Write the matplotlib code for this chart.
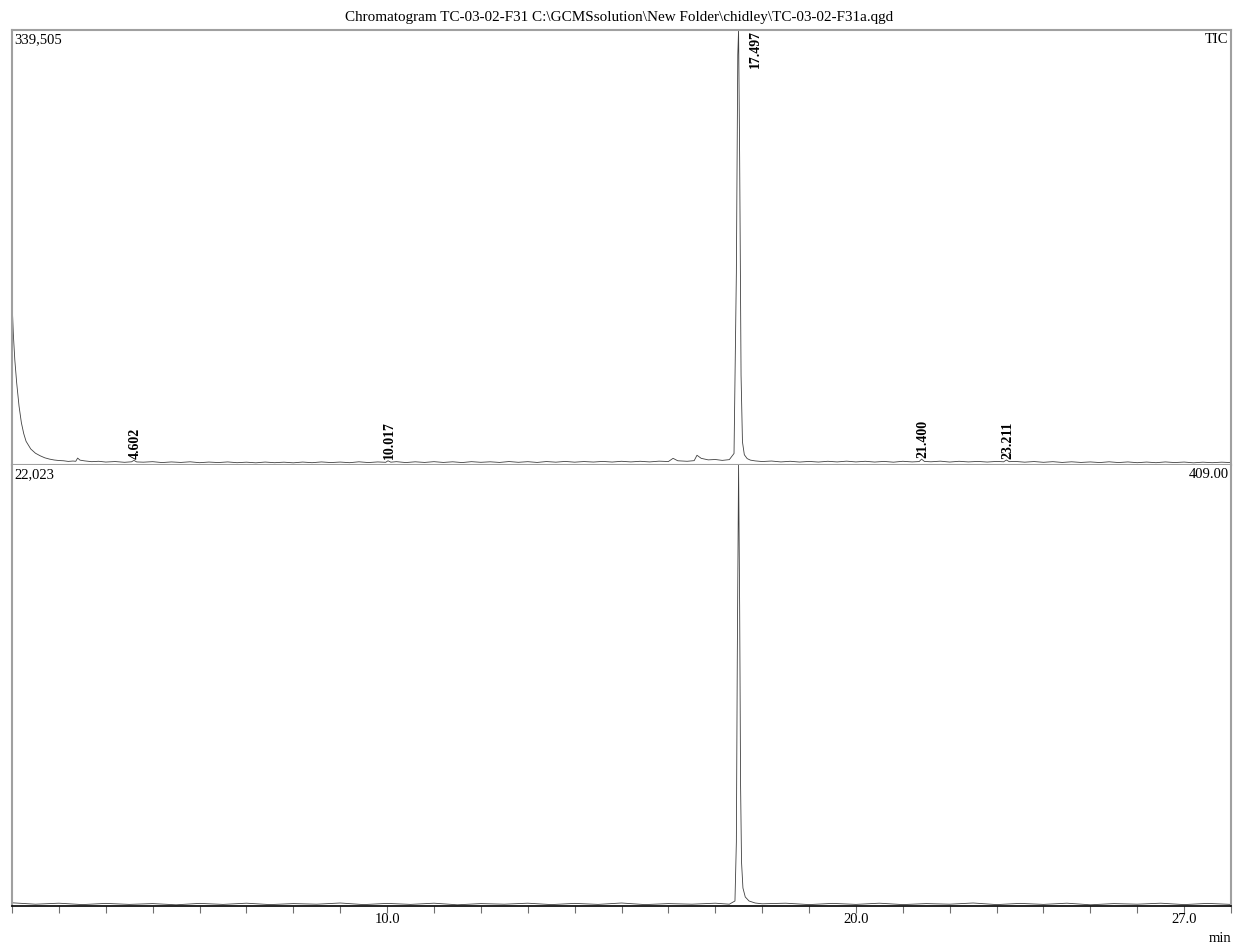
import numpy as np
import matplotlib
matplotlib.use("Agg")
import matplotlib.pyplot as plt

plt.rcParams['font.family'] = ['Liberation Serif', 'DejaVu Serif']

# TIC trace, upper panel (time in min, counts)
t_tic = [2.00, 2.03, 2.06, 2.10, 2.15, 2.20, 2.25, 2.30, 2.40, 2.50, 2.60, 2.70, 2.80, 2.90,
         3.00, 3.10, 3.20, 3.30, 3.36, 3.40, 3.45, 3.55, 3.70, 3.85, 4.00, 4.20, 4.40, 4.55,
         4.60, 4.66, 4.80, 5.00, 5.20, 5.40, 5.60, 5.80, 6.00, 6.20, 6.40, 6.60, 6.80, 7.00,
         7.20, 7.40, 7.60, 7.80, 8.00, 8.20, 8.40, 8.60, 8.80, 9.00, 9.20, 9.40, 9.60, 9.80,
         9.97, 10.02, 10.08, 10.20, 10.40, 10.60, 10.80, 11.00, 11.20, 11.40, 11.60, 11.80,
         12.00, 12.20, 12.40, 12.60, 12.80, 13.00, 13.20, 13.40, 13.60, 13.80, 14.00, 14.20,
         14.40, 14.60, 14.80, 15.00, 15.20, 15.40, 15.60, 15.80, 16.00, 16.10, 16.20, 16.40,
         16.55, 16.61, 16.70, 16.85, 17.00, 17.15, 17.30, 17.40, 17.45, 17.48, 17.497, 17.52,
         17.55, 17.58, 17.62, 17.68, 17.75, 17.85, 18.00, 18.20, 18.40, 18.60, 18.80, 19.00,
         19.20, 19.40, 19.60, 19.80, 20.00, 20.20, 20.40, 20.60, 20.80, 21.00, 21.20, 21.35,
         21.40, 21.46, 21.60, 21.80, 22.00, 22.20, 22.40, 22.60, 22.80, 23.00, 23.15, 23.21,
         23.27, 23.40, 23.60, 23.80, 24.00, 24.20, 24.40, 24.60, 24.80, 25.00, 25.20, 25.40,
         25.60, 25.80, 26.00, 26.20, 26.40, 26.60, 26.80, 27.00, 27.20, 27.40, 27.60, 27.80,
         28.00]
tic = [128000, 101000, 82000, 64000, 46000, 33000, 24500, 18500, 12500, 9200, 7200, 5600, 4600, 3900,
       3500, 3300, 2800, 3100, 2900, 5400, 3800, 3200, 2600, 2900, 2300, 2700, 2100, 2500,
       3600, 2400, 2200, 2600, 1900, 2400, 2000, 2500, 1800, 2300, 1900, 2400, 1800, 2200,
       1700, 2300, 1800, 2200, 1700, 2300, 1800, 2400, 1900, 2300, 1800, 2500, 1900, 2400,
       2100, 3300, 2200, 2600, 1900, 2500, 2000, 2600, 2000, 2500, 1900, 2600,
       2100, 2500, 2000, 2700, 2100, 2600, 2000, 2700, 2200, 2800, 2200, 2700,
       2300, 2800, 2300, 2900, 2400, 2900, 2400, 3000, 2700, 5200, 3300, 2900,
       3400, 7600, 5200, 4000, 4300, 3600, 4200, 9000, 150000, 320000, 339505, 240000,
       70000, 18000, 8000, 5000, 3800, 3200, 2700, 3100, 2400, 2900, 2300, 2800,
       2300, 2900, 2400, 3000, 2400, 2900, 2300, 2800, 2200, 2900, 2400, 2700,
       4600, 2800, 2500, 3000, 2300, 2900, 2400, 2800, 2300, 2800, 2500, 3900,
       2600, 2800, 2200, 2700, 2100, 2600, 2000, 2500, 2000, 2400, 1900, 2500,
       1900, 2400, 1800, 2300, 1800, 2400, 1900, 2300, 1700, 2200, 1800, 2200,
       1900]

# m/z 409.00 trace, lower panel
t_mz = [2.0, 2.5, 3.0, 3.5, 4.0, 4.5, 5.0, 5.5, 6.0, 6.5, 7.0, 7.5, 8.0, 8.5, 9.0, 9.5,
        10.0, 10.5, 11.0, 11.5, 12.0, 12.5, 13.0, 13.5, 14.0, 14.5, 15.0, 15.5, 16.0, 16.5,
        17.0, 17.3, 17.42, 17.45, 17.47, 17.497, 17.52, 17.54, 17.56, 17.59, 17.64, 17.72,
        17.85, 18.0, 18.5, 19.0, 19.5, 20.0, 20.5, 21.0, 21.5, 22.0, 22.5, 23.0, 23.5, 24.0,
        24.5, 25.0, 25.5, 26.0, 26.5, 27.0, 27.5, 28.0]
mz = [160, 90, 140, 70, 130, 80, 120, 60, 130, 80, 140, 70, 120, 90, 150, 70,
      130, 80, 140, 60, 120, 90, 140, 70, 130, 80, 150, 70, 120, 90,
      140, 90, 250, 3200, 12500, 22023, 15000, 6000, 2200, 900, 450, 250,
      150, 110, 140, 70, 130, 80, 140, 70, 120, 90, 150, 70, 130, 80,
      140, 60, 120, 90, 140, 70, 130, 80]

peak_rt = [4.602, 10.017, 17.497, 21.400, 23.211]
tick_pos = list(range(2, 29))
tick_lab = {10: "10.0", 20: "20.0", 27: "27.0"}
title = r"Chromatogram TC-03-02-F31 C:\GCMSsolution\New Folder\chidley\TC-03-02-F31a.qgd"

W, H = 1238, 948
fig = plt.figure(figsize=(W / 100, H / 100), dpi=100)
left, right = 12 / W, 1231 / W
top, mid, bot = 1 - 30 / H, 1 - 465 / H, 1 - 906 / H
ax1 = fig.add_axes([left, mid, right - left, top - mid])
ax2 = fig.add_axes([left, bot, right - left, mid - bot])

frame = '#a0a0a0'
ax1.plot(t_tic, tic, color='#404040', lw=0.6)
ax1.set_xlim(2.0, 28.0)
ax1.set_ylim(0, max(tic))
ax1.set_xticks([])
ax1.set_yticks([])
for s in ax1.spines.values():
    s.set_color(frame)
    s.set_linewidth(1.5)

ax2.plot(t_mz, mz, color='#404040', lw=0.6)
ax2.set_xlim(2.0, 28.0)
ax2.set_ylim(0, max(mz))
ax2.set_yticks([])
ax2.spines['top'].set_visible(False)
for side in ['left', 'right']:
    ax2.spines[side].set_color(frame)
    ax2.spines[side].set_linewidth(1.5)
ax2.spines['bottom'].set_color('black')
ax2.spines['bottom'].set_linewidth(1.2)
ax2.set_xticks(tick_pos)
ax2.set_xticklabels([tick_lab.get(p, "") for p in tick_pos], fontsize=10.5)
ax2.tick_params(axis='x', length=5, width=0.8, color='#707070', pad=0)

# peak labels
tic_arr = np.array(tic)
t_arr = np.array(t_tic)
for rt in peak_rt:
    i = int(np.argmin(np.abs(t_arr - rt)))
    if tic_arr[i] == tic_arr.max():
        ax1.annotate(f"{rt:.3f}", (rt, tic_arr[i]), xytext=(12, 0), textcoords='offset points',
                     rotation=90, ha='center', va='top', fontsize=10, fontweight='bold')
    else:
        ax1.annotate(f"{rt:.3f}", (rt, tic_arr[i]), xytext=(1, 1), textcoords='offset points',
                     rotation=90, ha='center', va='bottom', fontsize=10, fontweight='bold')

ax1.text(0.002, 0.993, f"{max(tic):,}", transform=ax1.transAxes, ha='left', va='top', fontsize=10.5)
ax1.text(0.998, 0.993, "TIC", transform=ax1.transAxes, ha='right', va='top', fontsize=10.5)
ax2.text(0.002, 0.993, f"{max(mz):,}", transform=ax2.transAxes, ha='left', va='top', fontsize=10.5)
ax2.text(0.998, 0.993, "409.00", transform=ax2.transAxes, ha='right', va='top', fontsize=10.5)

fig.text(0.5, 1 - 18 / H, title, ha='center', va='center', fontsize=10.9)
fig.text(1220 / W, 1 - 939 / H, "min", ha='center', va='center', fontsize=10.5)

fig.savefig("out.png", dpi=100)
